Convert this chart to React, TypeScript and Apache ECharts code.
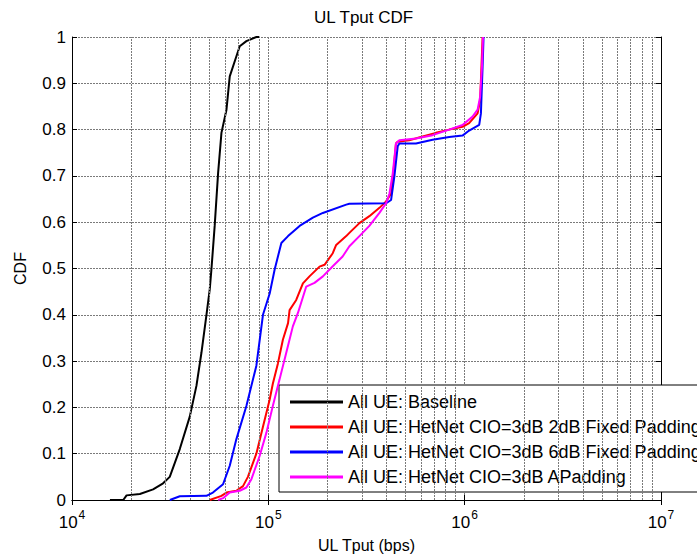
import React, { useEffect, useRef } from "react";
import * as echarts from "echarts";

const FONT = "Arial, 'Liberation Sans', sans-serif";

const seriesNames = [
  "All UE: Baseline",
  "All UE: HetNet CIO=3dB 2dB Fixed Padding",
  "All UE: HetNet CIO=3dB 6dB Fixed Padding",
  "All UE: HetNet CIO=3dB APadding",
];
const seriesColors = ["#000000", "#ff0000", "#0000ff", "#ff00ff"];

const baselineX = [15600, 18250, 18960, 22170, 25880, 29100, 31470, 35400, 39800, 43050, 45630, 48400, 50300, 51300, 53300, 55500, 57700, 61200, 63600, 68700, 71500, 77300, 86900, 90000];
const baselineY = [0, 0, 0.01, 0.013, 0.023, 0.036, 0.05, 0.11, 0.18, 0.247, 0.318, 0.4, 0.455, 0.498, 0.592, 0.707, 0.793, 0.843, 0.915, 0.958, 0.98, 0.991, 1.0, 1.0];

const fixed2X = [50300, 57700, 61200, 68700, 74300, 78700, 86900, 93900, 101600, 105400, 111900, 118600, 126000, 128300, 138700, 150000, 162000, 182300, 193300, 212900, 221600, 249300, 258700, 291000, 327000, 368000, 398000, 422000, 430000, 446700, 456000, 522000, 611000, 714000, 834000, 975000, 1054000, 1164000, 1199000, 1234000];
const fixed2Y = [0, 0.009, 0.016, 0.02, 0.03, 0.05, 0.1, 0.158, 0.217, 0.251, 0.295, 0.346, 0.382, 0.41, 0.432, 0.468, 0.483, 0.504, 0.508, 0.533, 0.551, 0.57, 0.577, 0.598, 0.613, 0.631, 0.645, 0.662, 0.69, 0.77, 0.774, 0.777, 0.785, 0.793, 0.8, 0.806, 0.814, 0.835, 0.864, 1.0];

const fixed6X = [31500, 35400, 48400, 52200, 58800, 63600, 68700, 77300, 86900, 93900, 101600, 107700, 116500, 126000, 144300, 168600, 189600, 249300, 258700, 398000, 422000, 438500, 456000, 465000, 565000, 686700, 834000, 975000, 1054000, 1186000, 1210000, 1234000, 1248000];
const fixed6Y = [0, 0.008, 0.009, 0.016, 0.034, 0.074, 0.131, 0.203, 0.29, 0.4, 0.446, 0.498, 0.555, 0.57, 0.592, 0.61, 0.62, 0.638, 0.64, 0.641, 0.648, 0.699, 0.764, 0.77, 0.77, 0.778, 0.784, 0.787, 0.798, 0.81, 0.835, 0.936, 1.0];

const apadX = [55500, 58800, 63600, 71500, 77300, 82000, 90300, 97700, 105400, 114000, 123400, 133300, 141500, 156000, 171800, 189600, 212900, 239000, 258700, 291000, 327000, 368000, 398000, 414000, 430000, 446700, 465000, 565000, 686700, 834000, 975000, 1097000, 1164000, 1199000, 1225000, 1240000];
const apadY = [0, 0.004, 0.016, 0.02, 0.027, 0.045, 0.095, 0.145, 0.203, 0.26, 0.318, 0.375, 0.404, 0.461, 0.469, 0.483, 0.505, 0.526, 0.548, 0.57, 0.592, 0.62, 0.641, 0.662, 0.705, 0.77, 0.777, 0.781, 0.788, 0.8, 0.81, 0.828, 0.843, 0.871, 0.936, 1.0];

const allX = [baselineX, fixed2X, fixed6X, apadX];
const allY = [baselineY, fixed2Y, fixed6Y, apadY];

const minorGridX = [2, 3, 4, 5, 6, 7, 8, 9].flatMap((m) => [m * 1e4, m * 1e5, m * 1e6]);

export default function App() {
  const ref = useRef<HTMLDivElement>(null);
  useEffect(() => {
    if (!ref.current) return;
    const chart = echarts.init(ref.current, null, { renderer: "svg" });
    const gridLine = { color: "#7a7a7a", type: [2, 1] as any, width: 1 };
    const series: any[] = [
      {
        type: "line",
        name: "minorgrid",
        data: [],
        silent: true,
        z: 1,
        markLine: {
          silent: true,
          symbol: ["none", "none"],
          label: { show: false },
          lineStyle: gridLine,
          animation: false,
          data: minorGridX.map((v) => ({ xAxis: v })),
        },
      },
    ];
    seriesNames.forEach((n, i) => {
      series.push({
        type: "line",
        name: n,
        data: allX[i].map((x, j) => [x, allY[i][j]]),
        showSymbol: false,
        symbol: "none",
        color: seriesColors[i],
        lineStyle: { color: seriesColors[i], width: 2 },
        z: 3 + i,
      });
    });
    chart.setOption({
      animation: false,
      backgroundColor: "#ffffff",
      title: {
        text: "UL Tput CDF",
        left: 314,
        top: 9,
        padding: 0,
        textStyle: { fontFamily: FONT, fontSize: 17, fontWeight: "normal", color: "#000" },
      },
      grid: { left: 72, top: 37, width: 589, height: 464, show: false },
      legend: {
        data: seriesNames,
        orient: "vertical",
        left: 279,
        top: 385,
        icon: "rect",
        itemWidth: 53,
        itemHeight: 3,
        itemGap: 5,
        padding: [7, 10, 5, 11],
        backgroundColor: "#ffffff",
        borderColor: "#000000",
        borderWidth: 1,
        selectedMode: false,
        textStyle: { fontFamily: FONT, fontSize: 18, color: "#000", lineHeight: 20 },
      },
      xAxis: [
        {
          type: "log",
          logBase: 10,
          min: 1e4,
          max: 1e7,
          name: "UL Tput (bps)",
          nameLocation: "middle",
          nameGap: 37,
          nameTextStyle: { fontFamily: FONT, fontSize: 16, color: "#000" },
          axisLine: { lineStyle: { color: "#000", width: 1 } },
          axisTick: { inside: true, length: 5, lineStyle: { color: "#000" } },
          splitLine: { show: true, lineStyle: gridLine },
          axisLabel: {
            margin: 9,
            formatter: (v: number) => "{b|10}{s|" + Math.round(Math.log10(v)) + "}",
            rich: {
              b: { fontFamily: FONT, fontSize: 17, color: "#000", verticalAlign: "bottom" },
              s: { fontFamily: FONT, fontSize: 12, color: "#000", padding: [0, 0, 10, 1] },
            },
          },
        },
        {
          type: "log",
          logBase: 10,
          min: 1e4,
          max: 1e7,
          position: "top",
          axisLine: { lineStyle: { color: "#000", width: 1 } },
          axisTick: { inside: true, length: 5, lineStyle: { color: "#000" } },
          axisLabel: { show: false },
          splitLine: { show: false },
        },
      ],
      yAxis: [
        {
          type: "value",
          min: 0,
          max: 1,
          interval: 0.1,
          name: "CDF",
          nameLocation: "middle",
          nameGap: 44,
          nameTextStyle: { fontFamily: FONT, fontSize: 16, color: "#000" },
          axisLine: { show: true, lineStyle: { color: "#000", width: 1 } },
          axisTick: { show: true, inside: true, length: 5, lineStyle: { color: "#000" } },
          splitLine: { show: true, lineStyle: gridLine },
          axisLabel: {
            margin: 6,
            fontFamily: FONT,
            fontSize: 17,
            color: "#000",
            formatter: (v: number) => String(+v.toFixed(1)),
          },
        },
        {
          type: "value",
          min: 0,
          max: 1,
          interval: 0.1,
          position: "right",
          axisLine: { show: true, lineStyle: { color: "#000", width: 1 } },
          axisTick: { show: true, inside: true, length: 5, lineStyle: { color: "#000" } },
          axisLabel: { show: false },
          splitLine: { show: false },
        },
      ],
      series,
    });
    return () => chart.dispose();
  }, []);
  return (
    <div
      ref={ref}
      style={{ position: "fixed", left: 0, top: 0, width: 697, height: 558, background: "#fff" }}
    />
  );
}
